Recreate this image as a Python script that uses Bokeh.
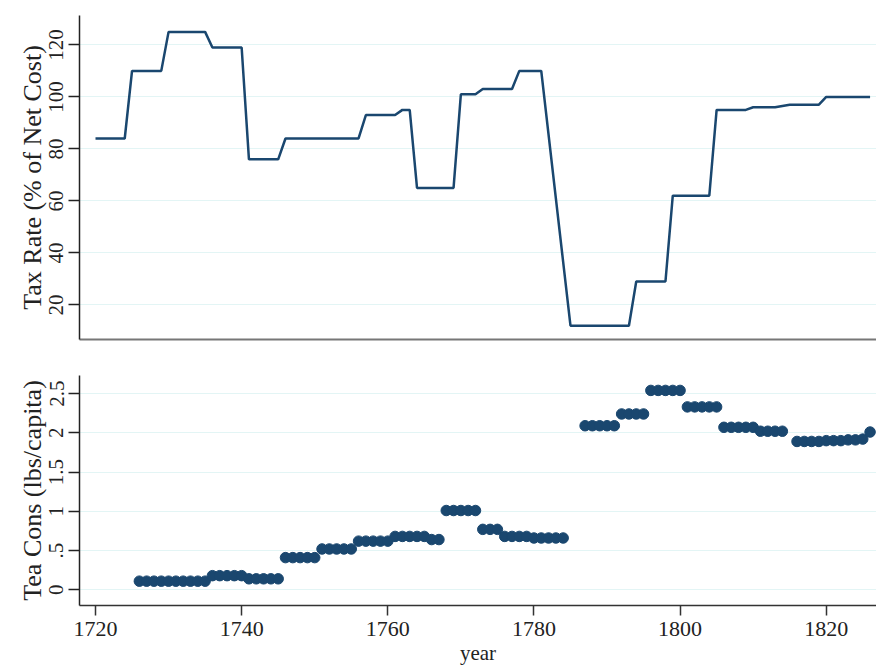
from bokeh.plotting import figure
from bokeh.layouts import column
from bokeh.models import FixedTicker, Range1d
from bokeh.embed import file_html
from bokeh.resources import INLINE

# ---- data ----
tax_years = [
    1720, 1721, 1722, 1723, 1724, 1725, 1726, 1727, 1728, 1729,
    1730, 1731, 1732, 1733, 1734, 1735, 1736, 1737, 1738, 1739,
    1740, 1741, 1742, 1743, 1744, 1745, 1746, 1747, 1748, 1749,
    1750, 1751, 1752, 1753, 1754, 1755, 1756, 1757, 1758, 1759,
    1760, 1761, 1762, 1763, 1764, 1765, 1766, 1767, 1768, 1769,
    1770, 1771, 1772, 1773, 1774, 1775, 1776, 1777, 1778, 1779,
    1780, 1781,
    1785, 1786, 1787, 1788, 1789, 1790, 1791, 1792, 1793, 1794,
    1795, 1796, 1797, 1798, 1799, 1800, 1801, 1802, 1803, 1804,
    1805, 1806, 1807, 1808, 1809, 1810, 1811, 1812, 1813, 1814,
    1815, 1816, 1817, 1818, 1819, 1820, 1821, 1822, 1823, 1824,
    1825, 1826,
]
tax_rate = [
    84, 84, 84, 84, 84, 110, 110, 110, 110, 110,
    125, 125, 125, 125, 125, 125, 119, 119, 119, 119,
    119, 76, 76, 76, 76, 76, 84, 84, 84, 84,
    84, 84, 84, 84, 84, 84, 84, 93, 93, 93,
    93, 93, 95, 95, 65, 65, 65, 65, 65, 65,
    101, 101, 101, 103, 103, 103, 103, 103, 110, 110,
    110, 110,
    12, 12, 12, 12, 12, 12, 12, 12, 12, 29,
    29, 29, 29, 29, 62, 62, 62, 62, 62, 62,
    95, 95, 95, 95, 95, 96, 96, 96, 96, 96.5,
    97, 97, 97, 97, 97, 100, 100, 100, 100, 100,
    100, 100,
]

tea_years = [
    1726, 1727, 1728, 1729, 1730, 1731, 1732, 1733, 1734, 1735,
    1736, 1737, 1738, 1739, 1740, 1741, 1742, 1743, 1744, 1745,
    1746, 1747, 1748, 1749, 1750, 1751, 1752, 1753, 1754, 1755,
    1756, 1757, 1758, 1759, 1760, 1761, 1762, 1763, 1764, 1765,
    1766, 1767, 1768, 1769, 1770, 1771, 1772, 1773, 1774, 1775,
    1776, 1777, 1778, 1779, 1780, 1781, 1782, 1783, 1784,
    1787, 1788, 1789, 1790, 1791, 1792, 1793, 1794, 1795, 1796,
    1797, 1798, 1799, 1800, 1801, 1802, 1803, 1804, 1805, 1806,
    1807, 1808, 1809, 1810, 1811, 1812, 1813, 1814, 1816, 1817,
    1818, 1819, 1820, 1821, 1822, 1823, 1824, 1825, 1826,
]
tea_cons = [
    0.11, 0.11, 0.11, 0.11, 0.11, 0.11, 0.11, 0.11, 0.11, 0.11,
    0.18, 0.18, 0.18, 0.18, 0.18, 0.14, 0.14, 0.14, 0.14, 0.14,
    0.41, 0.41, 0.41, 0.41, 0.41, 0.52, 0.52, 0.52, 0.52, 0.52,
    0.62, 0.62, 0.62, 0.62, 0.62, 0.68, 0.68, 0.68, 0.68, 0.68,
    0.64, 0.64, 1.01, 1.01, 1.01, 1.01, 1.01, 0.77, 0.77, 0.77,
    0.68, 0.68, 0.68, 0.68, 0.66, 0.66, 0.66, 0.66, 0.66,
    2.09, 2.09, 2.09, 2.09, 2.09, 2.24, 2.24, 2.24, 2.24, 2.54,
    2.54, 2.54, 2.54, 2.54, 2.33, 2.33, 2.33, 2.33, 2.33, 2.07,
    2.07, 2.07, 2.07, 2.07, 2.02, 2.02, 2.02, 2.02, 1.89, 1.89,
    1.89, 1.89, 1.90, 1.90, 1.90, 1.91, 1.91, 1.92, 2.01,
]

tax_ticks = [20, 40, 60, 80, 100, 120]
tea_ticks = [0, 0.5, 1, 1.5, 2, 2.5]
tea_tick_labels = ["0", ".5", "1", "1.5", "2", "2.5"]
year_ticks = [1720, 1740, 1760, 1780, 1800, 1820]

NAVY = "#1a476f"
GRID = "#e3f5f5"
FONT = "Liberation Serif"
TXT = "#222222"

xr = Range1d(1717.81, 1826.88)


def style_y(p, label, ticks):
    ax = p.yaxis[0]
    ax.axis_label = label
    ax.axis_label_text_font = FONT
    ax.axis_label_text_font_style = "normal"
    ax.axis_label_text_font_size = "26px"
    ax.axis_label_text_color = TXT
    ax.axis_label_standoff = 0
    ax.ticker = FixedTicker(ticks=ticks)
    ax.major_label_orientation = "vertical"
    ax.major_label_text_font = FONT
    ax.major_label_text_font_size = "21px"
    ax.major_label_text_color = TXT
    ax.major_label_standoff = 5
    ax.major_tick_out = 11
    ax.major_tick_in = 0
    ax.minor_tick_line_color = None
    ax.axis_line_color = "#222222"
    ax.axis_line_width = 1.5
    ax.major_tick_line_color = "#222222"
    ax.major_tick_line_width = 1.5
    p.ygrid.grid_line_color = GRID
    p.ygrid.grid_line_width = 1.2
    p.xgrid.grid_line_color = None
    p.outline_line_color = None
    p.background_fill_color = "white"
    p.border_fill_color = "white"


# ---- top panel ----
p1 = figure(width=876, height=375, x_range=xr, y_range=Range1d(6.7, 131.3),
            output_backend="svg", toolbar_location=None,
            min_border_left=79, min_border_right=0, min_border_top=15,
            min_border_bottom=36)
style_y(p1, "Tax Rate (% of Net Cost)", tax_ticks)
p1.xaxis.major_tick_line_color = None
p1.xaxis.minor_tick_line_color = None
p1.xaxis.major_label_text_color = None
p1.xaxis.major_label_text_font_size = "1px"
p1.xaxis.axis_line_color = "#777777"
p1.xaxis.axis_line_width = 2
p1.line(tax_years, tax_rate, line_color=NAVY, line_width=2.5)

# ---- bottom panel ----
p2 = figure(width=876, height=296, x_range=xr, y_range=Range1d(-0.2, 2.73),
            output_backend="svg", toolbar_location=None,
            min_border_left=79, min_border_right=0, min_border_top=0,
            min_border_bottom=66)
style_y(p2, "Tea Cons (lbs/capita)", tea_ticks)
p2.yaxis[0].major_label_overrides = {t: l for t, l in zip(tea_ticks, tea_tick_labels)}
xa = p2.xaxis[0]
xa.ticker = FixedTicker(ticks=year_ticks)
xa.axis_label = "year"
xa.axis_label_text_font = FONT
xa.axis_label_text_font_style = "normal"
xa.axis_label_text_font_size = "21px"
xa.axis_label_text_color = TXT
xa.axis_label_standoff = 2
xa.major_label_text_font = FONT
xa.major_label_text_font_size = "22px"
xa.major_label_text_color = TXT
xa.major_label_standoff = 6
xa.major_tick_out = 10
xa.major_tick_in = 0
xa.minor_tick_line_color = None
xa.axis_line_color = "#333333"
xa.axis_line_width = 1.5
xa.major_tick_line_color = "#333333"
xa.major_tick_line_width = 1.5
p2.scatter(tea_years, tea_cons, size=10.5, fill_color=NAVY, line_color=NAVY)

layout = column(p1, p2, spacing=0)
open("out.html", "w").write(file_html(layout, INLINE))
